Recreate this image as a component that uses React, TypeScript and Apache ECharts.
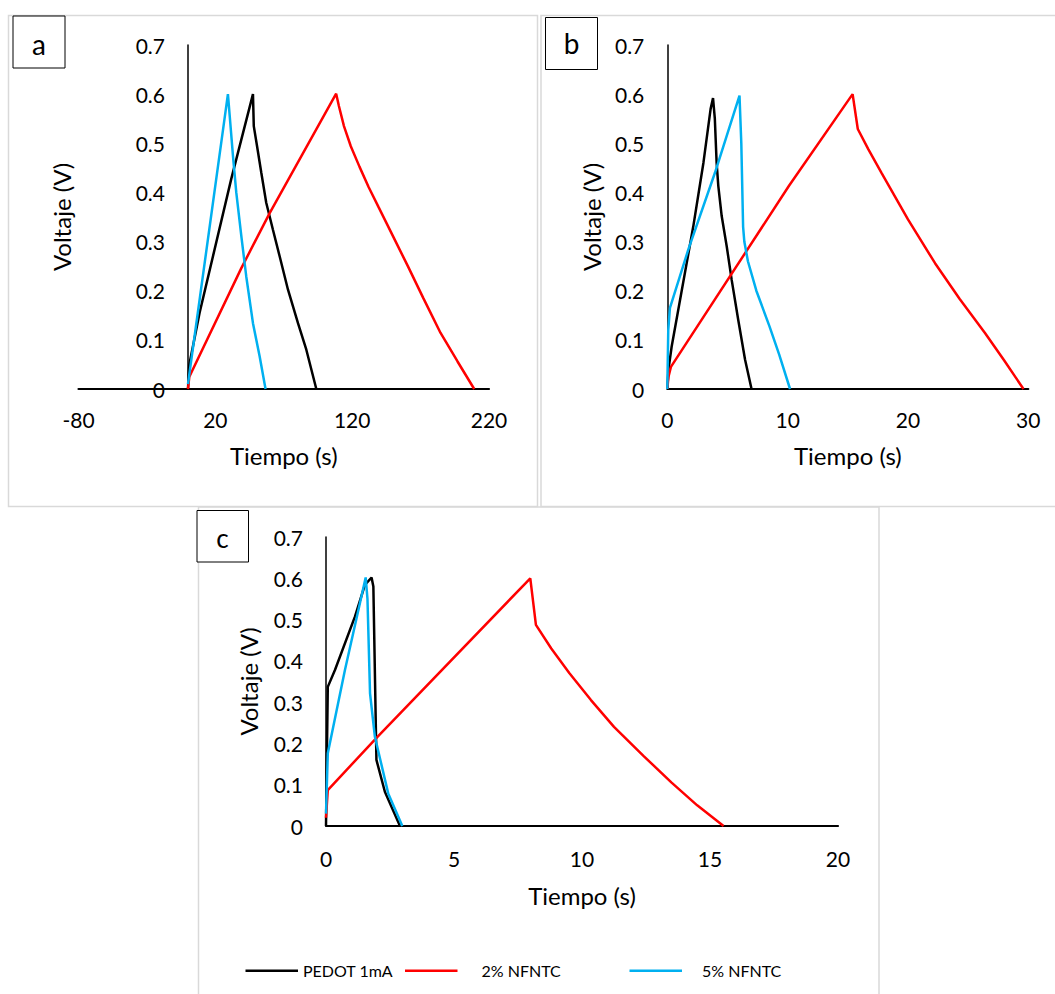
import React, { useEffect, useRef } from "react";
import * as echarts from "echarts";

const FONT = "Lato, 'Open Sans', sans-serif";

const seriesNames = ["PEDOT 1mA", "2% NFNTC", "5% NFNTC"];
const seriesColors = ["#000000", "#FF0000", "#00B0F0"];

const voltMin = 0;
const voltMax = 0.7;
const voltStep = 0.1;

const aTimeTicks = [-80, 20, 120, 220];
const bTimeTicks = { min: 0, max: 30, step: 10 };
const cTimeTicks = { min: 0, max: 20, step: 5 };

// Panel a (t in s, V)
const aPedot: [number, number][] = [
  [0, 0], [1, 0.05], [8.5, 0.155], [31.6, 0.427], [47.5, 0.6], [48.1, 0.535],
  [50.5, 0.494], [53.6, 0.44], [57.2, 0.379], [62.1, 0.324], [67, 0.27],
  [73.1, 0.202], [80.4, 0.134], [86.5, 0.08], [93.8, 0],
];
const aNf2: [number, number][] = [
  [0, 0], [1, 0.025], [39, 0.246], [59.7, 0.358], [108.3, 0.601], [110.3, 0.576],
  [114, 0.535], [119, 0.494], [125.4, 0.452], [132, 0.411], [139.3, 0.37],
  [150, 0.31], [160.7, 0.25], [172, 0.185], [184.6, 0.114], [197, 0.056], [209.2, 0],
];
const aNf5: [number, number][] = [
  [0, 0.01], [29.2, 0.6], [30.5, 0.556], [32.9, 0.474], [35.3, 0.4], [39, 0.311],
  [42.6, 0.229], [47.5, 0.134], [52.4, 0.066], [56.7, 0],
];

// Panel b
const bPedot: [number, number][] = [
  [0, 0], [0.1, 0.04], [0.36, 0.086], [2.16, 0.331], [3.0, 0.46], [3.6, 0.57],
  [3.8, 0.592], [3.95, 0.55], [4.1, 0.46], [4.24, 0.413], [4.52, 0.352],
  [4.94, 0.29], [5.35, 0.222], [5.9, 0.14], [6.46, 0.06], [7.0, 0],
];
const bNf2: [number, number][] = [
  [0, 0], [0.1, 0.025], [0.3, 0.045], [10.1, 0.413], [15.4, 0.6], [15.83, 0.529],
  [16.7, 0.488], [17.8, 0.44], [20, 0.345], [22.25, 0.256], [24.3, 0.183],
  [26.4, 0.114], [28, 0.058], [29.6, 0],
];
const bNf5: [number, number][] = [
  [0, 0], [0.08, 0.12], [0.22, 0.165], [1.75, 0.284], [3.96, 0.44], [6.0, 0.597],
  [6.15, 0.5], [6.3, 0.33], [6.4, 0.3], [6.7, 0.26], [7.4, 0.2], [8.5, 0.127],
  [9.3, 0.07], [10.2, 0],
];

// Panel c
const cPedot: [number, number][] = [
  [0, 0], [0.03, 0.15], [0.07, 0.337], [0.35, 0.378], [1.13, 0.507], [1.52, 0.584],
  [1.78, 0.602], [1.85, 0.58], [1.97, 0.16], [2.3, 0.083], [2.89, 0],
];
const cNf2: [number, number][] = [
  [0, 0.02], [0.07, 0.087], [2.01, 0.216], [7.98, 0.6], [8.2, 0.487], [8.8, 0.43],
  [9.51, 0.37], [10.35, 0.305], [11.25, 0.24], [12.4, 0.17], [13.5, 0.105],
  [14.5, 0.05], [15.53, 0],
];
const cNf5: [number, number][] = [
  [0, 0.03], [0.07, 0.176], [0.74, 0.378], [1.55, 0.602], [1.62, 0.55], [1.72, 0.321],
  [1.91, 0.216], [2.43, 0.079], [2.98, 0],
];

const panelData = [
  [aPedot, aNf2, aNf5],
  [bPedot, bNf2, bNf5],
  [cPedot, cNf2, cNf5],
];

const panelLetters = ["a", "b", "c"];

export default function App() {
  const ref = useRef<HTMLDivElement>(null);

  useEffect(() => {
    if (!ref.current) return;
    const chart = echarts.init(ref.current, undefined, { renderer: "svg" });

    const gridBoxes = [
      { left: 78.5, top: 45, width: 410.5, height: 344 },
      { left: 667.3, top: 45, width: 361, height: 344 },
      { left: 326, top: 537, width: 512, height: 289 },
    ];
    const grids = gridBoxes.map((g) => ({
      ...g,
      containLabel: false,
      outerBoundsMode: "none",
      show: false,
    }));

    // In panel a the vertical axis line sits at t = 0, inside the grid, while
    // its labels and name are laid out from the grid edge: shift them inward.
    const aZeroOffset =
      ((0 - aTimeTicks[0]) / (aTimeTicks[aTimeTicks.length - 1] - aTimeTicks[0])) *
      gridBoxes[0].width;
    const yOffsets = [aZeroOffset, 0, 0];
    const yNameGaps = [114, 64, 66];
    const xNameGaps = [54, 54, 57];
    const xLabelMargins = [20, 20, 22];

    const yAxes = [0, 1, 2].map((i) => ({
      type: "value",
      gridIndex: i,
      min: voltMin,
      max: voltMax,
      interval: voltStep,
      name: "Voltaje (V)",
      nameLocation: "middle",
      nameGap: yNameGaps[i] - yOffsets[i],
      nameTextStyle: { fontFamily: FONT, fontSize: 24, color: "#000" },
      axisLine: { show: true, onZero: true, lineStyle: { color: "#000", width: 1.5 } },
      axisTick: { show: false },
      splitLine: { show: false },
      axisLabel: { fontFamily: FONT, fontSize: 21, color: "#000", margin: 23 - yOffsets[i] },
    }));

    const xCommon = (i: number) => ({
      type: "value",
      gridIndex: i,
      name: "Tiempo (s)",
      nameLocation: "middle",
      nameGap: xNameGaps[i],
      nameTextStyle: { fontFamily: FONT, fontSize: 24, color: "#000" },
      axisLine: { show: true, onZero: true, lineStyle: { color: "#000", width: 2.2 } },
      axisTick: { show: false },
      splitLine: { show: false },
    });

    const xAxes = [
      {
        ...xCommon(0),
        min: aTimeTicks[0],
        max: aTimeTicks[aTimeTicks.length - 1],
        axisLabel: {
          fontFamily: FONT, fontSize: 21, color: "#000", margin: xLabelMargins[0],
          customValues: aTimeTicks,
        },
      },
      {
        ...xCommon(1),
        min: bTimeTicks.min,
        max: bTimeTicks.max,
        interval: bTimeTicks.step,
        axisLabel: { fontFamily: FONT, fontSize: 21, color: "#000", margin: xLabelMargins[1] },
      },
      {
        ...xCommon(2),
        min: cTimeTicks.min,
        max: cTimeTicks.max,
        interval: cTimeTicks.step,
        axisLabel: { fontFamily: FONT, fontSize: 21, color: "#000", margin: xLabelMargins[2] },
      },
    ];

    const series: any[] = [];
    panelData.forEach((sets, p) => {
      sets.forEach((data, s) => {
        series.push({
          type: "line",
          name: seriesNames[s],
          xAxisIndex: p,
          yAxisIndex: p,
          data,
          symbol: "none",
          color: seriesColors[s],
          lineStyle: { width: 2.5, color: seriesColors[s] },
          smooth: false,
          silent: true,
        });
      });
    });

    const legendPos = [
      { left: 245.5, top: 962.75, pad: [0, 0, 0, 0] },
      { left: 405, top: 962.75, pad: [7, 0, 0, 19] },
      { left: 629.5, top: 962.75, pad: [0, 0, 7, 15] },
    ];
    const legends = seriesNames.map((n, i) => ({
      data: [n],
      left: legendPos[i].left,
      top: legendPos[i].top,
      padding: 0,
      icon: "rect",
      itemWidth: 52.5,
      itemHeight: 2.5,
      itemStyle: { borderWidth: 0 },
      selectedMode: false,
      textStyle: {
        fontFamily: FONT,
        fontSize: 16,
        color: "#000",
        padding: legendPos[i].pad,
      },
    }));

    const border = { fill: "none", stroke: "#d9d9d9", lineWidth: 1.5 };
    const box = { fill: "#fff", stroke: "#000", lineWidth: 1 };
    const letterStyle = (size: number) => ({
      fill: "#000",
      font: `${size}px Lato, sans-serif`,
      textAlign: "center",
      textVerticalAlign: "middle",
    });

    const graphic = [
      { type: "rect", shape: { x: 8.5, y: 15.5, width: 529, height: 491 }, style: border, silent: true },
      { type: "rect", shape: { x: 541, y: 15.5, width: 520, height: 491 }, style: border, silent: true },
      { type: "rect", shape: { x: 198.5, y: 507, width: 680.5, height: 500 }, style: border, silent: true },
      { type: "rect", shape: { x: 13, y: 16, width: 52, height: 52 }, style: box, silent: true },
      { type: "rect", shape: { x: 545.5, y: 17.5, width: 52, height: 52 }, style: box, silent: true },
      { type: "rect", shape: { x: 197, y: 510.5, width: 51.5, height: 51.5 }, style: box, silent: true },
      { type: "text", x: 39, y: 44, style: { text: panelLetters[0], ...letterStyle(28) }, silent: true },
      { type: "text", x: 571.5, y: 43, style: { text: panelLetters[1], ...letterStyle(28) }, silent: true },
      { type: "text", x: 222.5, y: 538, style: { text: panelLetters[2], ...letterStyle(26) }, silent: true },
    ];

    chart.setOption({
      animation: false,
      backgroundColor: "#ffffff",
      textStyle: { fontFamily: FONT },
      grid: grids,
      xAxis: xAxes,
      yAxis: yAxes,
      legend: legends,
      series,
      graphic,
    });

    return () => chart.dispose();
  }, []);

  return (
    <div
      ref={ref}
      style={{ position: "absolute", left: 0, top: 0, width: 1055, height: 994 }}
    />
  );
}
